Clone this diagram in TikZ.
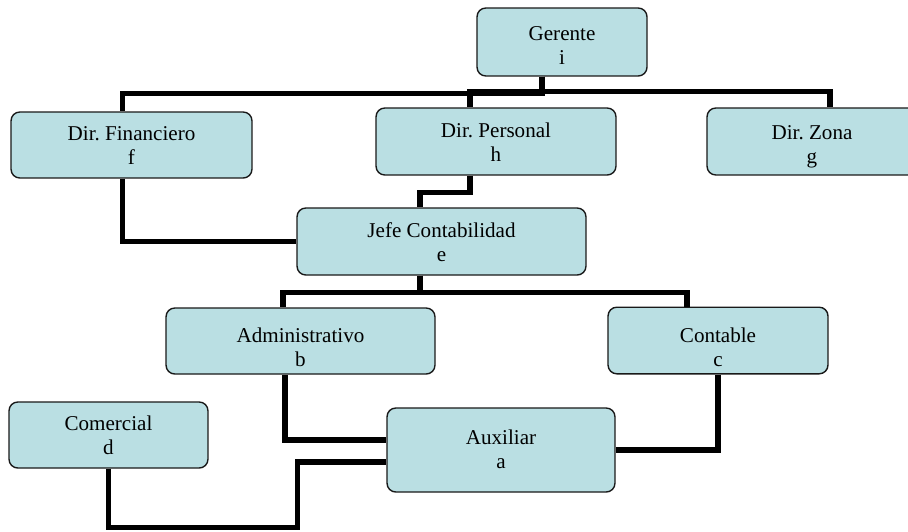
\documentclass[tikz,border=0pt]{standalone}
\usepackage{fontspec}
\setmainfont{Liberation Serif}
\usepackage{tikz}
\definecolor{celeste}{HTML}{BADFE3}
\frenchspacing

\begin{document}
\begin{tikzpicture}[x=0.02cm,y=-0.02cm,
		caja/.style={draw=black!90,line width=0.8pt,fill=celeste,rounded corners=5pt,
			align=center,inner sep=0pt,font=\fontsize{12}{13.7}\selectfont,text depth=4pt},
		linea/.style={line width=2.9pt}]
			\useasboundingbox (0,0) rectangle (908,531);
			
			\node[caja,text height=29.9pt,minimum width=3.4cm,minimum height=1.36cm](ger) at (562,42) {Gerente\\i};
			\node[caja,text height=26.5pt,minimum width=4.82cm,minimum height=1.32cm](fin) at (131.5,145) {Dir. Financiero\\f};
			\node[caja,text height=27pt,minimum width=4.8cm,minimum height=1.34cm](per) at (496,141.5) {Dir. Personal\\h};
			\node[caja,text height=29.4pt,minimum width=4.2cm,minimum height=1.34cm](zon) at (812,141.5) {Dir. Zona\\g};
			\node[caja,text height=27pt,minimum width=5.78cm,minimum height=1.34cm](jef) at (441.5,241.5) {Jefe Contabilidad\\e};
			\node[caja,text height=33.3pt,minimum width=5.38cm,minimum height=1.32cm](adm) at (300.5,341) {Administrativo\\b};
			\node[caja,text height=33.9pt,minimum width=4.4cm,minimum height=1.3cm](con) at (718,340.5) {Contable\\c};
			\node[caja,text height=26.5pt,minimum width=3.98cm,minimum height=1.32cm](com) at (108.5,435) {Comercial\\d};
			\node[caja,text height=25.4pt,minimum width=4.56cm,minimum height=1.68cm](aux) at (501,450) {Auxiliar\\a};
			
			\draw[linea]([xshift=-0.4cm]ger.south) -- ++(0,17) -| ([xshift=-0.18cm]fin.north);
			\draw[linea]([xshift=-0.4cm]ger.south) -- ++(0,15) -| ([xshift=-0.52cm]per.north);
			\draw[linea]([xshift=-0.4cm]ger.south) -- ++(0,15) -| ([xshift=0.36cm]zon.north);
			\draw[linea]([xshift=-0.52cm]per.south) -- ++(0,17) -| ([xshift=-0.43cm]jef.north);
			\draw[linea]([xshift=-0.18cm]fin.south) |- (jef.west);
			\draw[linea]([xshift=-0.43cm]jef.south) -- ++(0,17) -| ([xshift=-0.35cm]adm.north);
			\draw[linea]([xshift=-0.43cm]jef.south) -- ++(0,17) -| ([xshift=-0.62cm]con.north);
			\draw[linea]([xshift=-0.31cm]adm.south) |- ([yshift=0.2cm]aux.west);
			\draw[linea](con.south) |- (aux.east);
			\draw[linea](com.south) -- ++(0,59) -- ++(189,0) |- ([yshift=-0.24cm]aux.west);
		\end{tikzpicture}
\end{document}
